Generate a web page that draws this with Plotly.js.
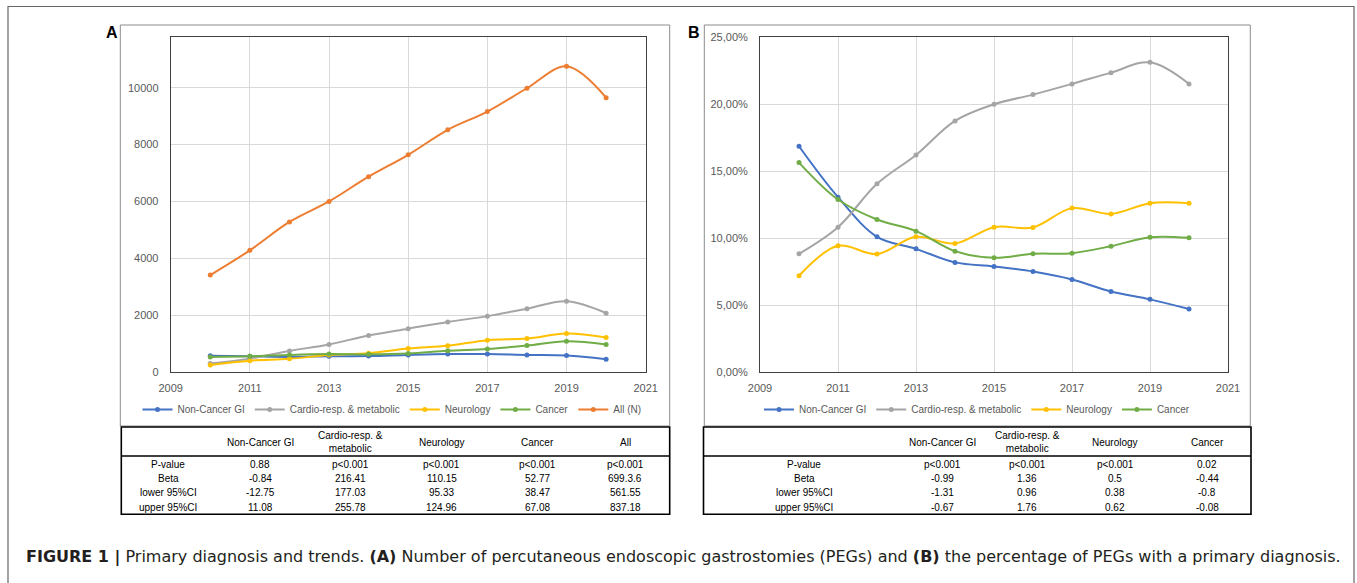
<!DOCTYPE html>
<html>
<head>
<meta charset="utf-8">
<script src="https://cdn.plot.ly/plotly-3.0.1.min.js"></script>
<style>
html, body { margin: 0; padding: 0; background: #ffffff; }
#chart { width: 1357px; height: 583px; }
</style>
</head>
<body>
<div id="chart"></div>
<script>
// ---------------- DATA ----------------
const years = [2010, 2011, 2012, 2013, 2014, 2015, 2016, 2017, 2018, 2019, 2020];

const seriesNames = ['Non-Cancer GI', 'Cardio-resp. & metabolic', 'Neurology', 'Cancer'];
const allName = 'All (N)';

// Panel A: number of PEGs
const nonCancerGI_N = [570, 550, 530, 550, 560, 600, 630, 630, 600, 580, 450];
const cardio_N      = [300, 470, 740, 970, 1285, 1525, 1760, 1965, 2225, 2485, 2070];
const neurology_N   = [245, 400, 465, 600, 660, 825, 920, 1120, 1175, 1355, 1215];
const cancer_N      = [530, 550, 600, 630, 620, 650, 750, 810, 930, 1080, 965];
const all_N         = [3410, 4280, 5280, 6000, 6870, 7640, 8520, 9160, 9980, 10750, 9650];

// Panel B: share of PEGs with the primary diagnosis (fractions)
const nonCancerGI_pct = [0.1685, 0.1305, 0.1009, 0.0919, 0.0818, 0.0788, 0.0750, 0.0691, 0.0601, 0.0542, 0.0470];
const cardio_pct      = [0.0882, 0.1081, 0.1404, 0.1620, 0.1874, 0.1998, 0.2070, 0.2150, 0.2234, 0.2311, 0.2150];
const neurology_pct   = [0.0718, 0.0942, 0.0880, 0.1009, 0.0959, 0.1081, 0.1079, 0.1223, 0.1180, 0.1260, 0.1260];
const cancer_pct      = [0.1563, 0.1287, 0.1138, 0.1051, 0.0902, 0.0852, 0.0882, 0.0887, 0.0939, 0.1006, 0.1001];

// Tables
const tableRowLabels = ['P-value', 'Beta', 'lower 95%CI', 'upper 95%CI'];
const tableA_headers = ['Non-Cancer GI', 'Cardio-resp. &<br>metabolic', 'Neurology', 'Cancer', 'All'];
const tableA_pvalue  = ['0.88', 'p<0.001', 'p<0.001', 'p<0.001', 'p<0.001'];
const tableA_beta    = ['-0.84', '216.41', '110.15', '52.77', '699.3.6'];
const tableA_lower   = ['-12.75', '177.03', '95.33', '38.47', '561.55'];
const tableA_upper   = ['11.08', '255.78', '124.96', '67.08', '837.18'];

const tableB_headers = ['Non-Cancer GI', 'Cardio-resp. &<br>metabolic', 'Neurology', 'Cancer'];
const tableB_pvalue  = ['p<0.001', 'p<0.001', 'p<0.001', '0.02'];
const tableB_beta    = ['-0.99', '1.36', '0.5', '-0.44'];
const tableB_lower   = ['-1.31', '0.96', '0.38', '-0.8'];
const tableB_upper   = ['-0.67', '1.76', '0.62', '-0.08'];

const captionText = '<b>FIGURE 1 |</b> Primary diagnosis and trends. <b>(A)</b> Number of percutaneous endoscopic gastrostomies (PEGs) and <b>(B)</b> the percentage of PEGs with a primary diagnosis.';

// ---------------- STYLE ----------------
const colors = ['#4472C4', '#A5A5A5', '#FFC000', '#70AD47'];
const allColor = '#ED7D31';
const W = 1357, H = 583;
const fx = x => x / W;
const fy = y => 1 - y / H;
const esc = s => s.replace(/</g, '&lt;');
const FONT = 'Liberation Sans, Arial, sans-serif';

function lineTrace(name, x, y, color, xa, ya, lg) {
  return {
    type: 'scatter', mode: 'lines+markers', name: name, x: x, y: y,
    xaxis: xa, yaxis: ya, legend: lg,
    line: { color: color, width: 2, shape: 'spline', smoothing: 1 },
    marker: { color: color, size: 5 },
    hoverinfo: 'x+y'
  };
}

const nSeriesA = [nonCancerGI_N, cardio_N, neurology_N, cancer_N];
const pctSeriesB = [nonCancerGI_pct, cardio_pct, neurology_pct, cancer_pct];

const traces = [];
seriesNames.forEach((n, i) => traces.push(lineTrace(n, years, nSeriesA[i], colors[i], 'x', 'y', 'legend')));
traces.push(lineTrace(allName, years, all_N, allColor, 'x', 'y', 'legend'));
seriesNames.forEach((n, i) => traces.push(lineTrace(n, years, pctSeriesB[i], colors[i], 'x2', 'y2', 'legend2')));

const axisCommon = {
  showgrid: true, gridcolor: '#d9d9d9', gridwidth: 1,
  showline: true, mirror: true, linecolor: '#404040', linewidth: 1,
  zeroline: false, ticks: '', fixedrange: true,
  tickfont: { family: FONT, size: 11, color: '#595959' }
};

const xCommon = Object.assign({}, axisCommon, { range: [2009, 2021], tick0: 2009, dtick: 2, tickmode: 'linear', ticklabelstandoff: 6 });

const layout = {
  width: W, height: H,
  margin: { l: 0, r: 0, t: 0, b: 0 },
  paper_bgcolor: '#ffffff', plot_bgcolor: '#ffffff',
  separators: ',.',
  font: { family: FONT, color: '#595959' },
  showlegend: true,
  xaxis: Object.assign({}, xCommon, { domain: [fx(170.7), fx(645.7)], anchor: 'y' }),
  yaxis: Object.assign({}, axisCommon, { domain: [fy(372), fy(36.5)], anchor: 'x', range: [0, 11800], tick0: 0, dtick: 2000, tickmode: 'linear', tickformat: 'd', ticklabelstandoff: 9 }),
  xaxis2: Object.assign({}, xCommon, { domain: [fx(760), fx(1228)], anchor: 'y2' }),
  yaxis2: Object.assign({}, axisCommon, { domain: [fy(372), fy(37)], anchor: 'x2', range: [0, 0.25], tick0: 0, dtick: 0.05, tickmode: 'linear', tickformat: '.2%', ticklabelstandoff: 9 }),
  legend: {
    orientation: 'h', x: fx(392), xanchor: 'center', y: fy(409.5), yanchor: 'middle',
    bgcolor: 'rgba(0,0,0,0)', font: { family: FONT, size: 10, color: '#595959' }, itemwidth: 30
  },
  legend2: {
    orientation: 'h', x: fx(977), xanchor: 'center', y: fy(409.5), yanchor: 'middle',
    bgcolor: 'rgba(0,0,0,0)', font: { family: FONT, size: 10, color: '#595959' }, itemwidth: 30
  },
  shapes: [],
  annotations: []
};

function rectShape(x0, y0, x1, y1, color, width) {
  return { type: 'rect', xref: 'paper', yref: 'paper', x0: fx(x0), x1: fx(x1), y0: fy(y0), y1: fy(y1), line: { color: color, width: width }, fillcolor: 'rgba(0,0,0,0)', layer: 'above' };
}
function lineShape(x0, y0, x1, y1, color, width) {
  return { type: 'line', xref: 'paper', yref: 'paper', x0: fx(x0), x1: fx(x1), y0: fy(y0), y1: fy(y1), line: { color: color, width: width }, layer: 'above' };
}
function txt(text, x, y, opts) {
  return Object.assign({
    text: text, xref: 'paper', yref: 'paper', x: fx(x), y: fy(y),
    xanchor: 'center', yanchor: 'middle', showarrow: false,
    font: { family: FONT, size: 10, color: '#000000' }
  }, opts || {});
}

// Frames
layout.shapes.push(rectShape(8, 6.5, 1354, 600, '#666666', 1.2));
layout.shapes.push(rectShape(120.3, 25, 669.7, 426, '#8c8c8c', 1));
layout.shapes.push(rectShape(704.3, 25, 1250.3, 426, '#8c8c8c', 1));
// Tables
layout.shapes.push(rectShape(121.3, 427, 669.7, 514.3, '#000000', 1.6));
layout.shapes.push(lineShape(121.3, 456, 669.7, 456, '#000000', 1.6));
layout.shapes.push(rectShape(703.5, 427, 1251, 514.3, '#000000', 1.6));
layout.shapes.push(lineShape(703.5, 456, 1251, 456, '#000000', 1.6));

// Panel letters
layout.annotations.push(txt('<b>A</b>', 112, 32.5, { font: { family: FONT, size: 16, color: '#000000' } }));
layout.annotations.push(txt('<b>B</b>', 694, 32.5, { font: { family: FONT, size: 16, color: '#000000' } }));

// Table content
const rowY = [464, 478, 492.7, 507.5];
function addTable(labelX, colX, headers, rows) {
  headers.forEach((h, j) => layout.annotations.push(txt(h, colX[j], 442)));
  tableRowLabels.forEach((lab, i) => {
    layout.annotations.push(txt(lab, labelX, rowY[i]));
    rows[i].forEach((v, j) => layout.annotations.push(txt(esc(v), colX[j], rowY[i])));
  });
}
addTable(168, [260, 350, 442, 537, 625], tableA_headers, [tableA_pvalue, tableA_beta, tableA_lower, tableA_upper]);
addTable(804, [942, 1027, 1115, 1207], tableB_headers, [tableB_pvalue, tableB_beta, tableB_lower, tableB_upper]);

// Caption
layout.annotations.push(txt(captionText, 24, 557, { xanchor: 'left', font: { family: 'DejaVu Sans, sans-serif', size: 16, color: '#231f20' } }));

Plotly.newPlot('chart', traces, layout, { staticPlot: true, displayModeBar: false });
</script>
</body>
</html>
